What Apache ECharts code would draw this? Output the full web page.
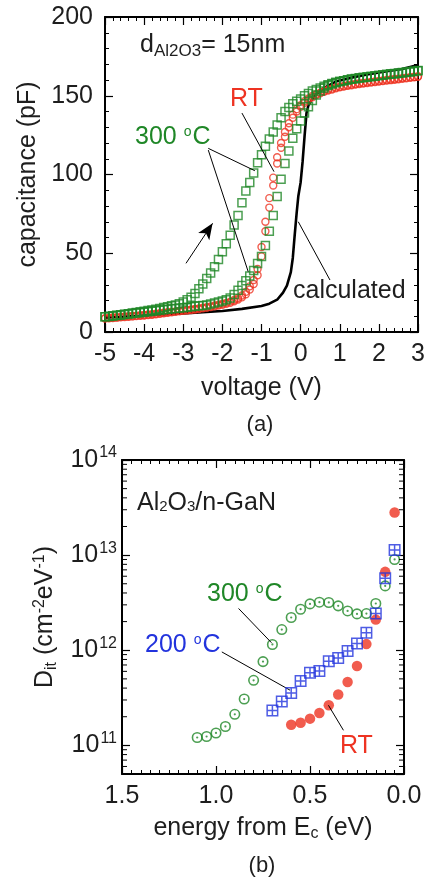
<!DOCTYPE html>
<html><head><meta charset="utf-8">
<script src="https://cdn.jsdelivr.net/npm/echarts@6/dist/echarts.min.js"></script>
<style>html,body{margin:0;padding:0;background:#fff}#c{width:428px;height:877px}</style>
</head><body><div id="c"></div>
<script>
// ---------- (a) C-V data ----------
const voltage = [
 -5.0,-4.9,-4.8,-4.7,-4.6,-4.5,-4.4,-4.3,-4.2,-4.1,
 -4.0,-3.9,-3.8,-3.7,-3.6,-3.5,-3.4,-3.3,-3.2,-3.1,
 -3.0,-2.9,-2.8,-2.7,-2.6,-2.5,-2.4,-2.3,-2.2,-2.1,
 -2.0,-1.9,-1.8,-1.7,-1.6,-1.5,-1.4,-1.3,-1.2,-1.1,
 -1.0,-0.9,-0.8,-0.7,-0.6,-0.5,-0.4,-0.3,-0.2,-0.1,
 0.0,0.1,0.2,0.3,0.4,0.5,0.6,0.7,0.8,0.9,
 1.0,1.1,1.2,1.3,1.4,1.5,1.6,1.7,1.8,1.9,
 2.0,2.1,2.2,2.3,2.4,2.5,2.6,2.7,2.8,2.9,
 3.0];
const cap300Up = [
 9.7,10.0,10.3,10.6,10.9,11.2,11.6,12.0,12.4,12.8,
 13.2,13.6,14.0,14.5,15.0,15.5,16.0,16.6,17.2,18.0,
 19.0,20.5,22.0,24.5,27.5,30.5,34.0,37.5,41.5,46.0,
 51.0,56.0,61.5,68.0,74.0,82.0,89.5,95.0,101.0,107.5,
 112.5,118.0,122.5,127.0,131.5,136.0,140.0,142.5,145.0,146.5,
 148.0,150.0,151.5,153.0,154.0,155.0,156.0,157.0,157.8,158.5,
 159.0,159.5,160.0,160.4,160.8,161.2,161.5,161.8,162.1,162.4,
 162.7,163.0,163.3,163.6,163.9,164.2,164.5,164.8,165.1,165.4,
 165.8];
const cap300Down = [
 9.7,9.9,10.2,10.5,10.8,11.1,11.4,11.7,12.0,12.3,
 12.6,12.9,13.2,13.5,13.8,14.1,14.4,14.7,15.0,15.2,
 15.4,15.7,16.0,16.3,16.6,16.9,17.2,17.8,18.4,19.0,
 19.7,20.5,21.6,23.8,26.5,29.5,32.5,35.5,39.0,43.5,
 48.0,55.0,64.0,74.0,86.0,97.0,107.0,115.0,123.0,129.0,
 134.0,139.0,143.0,147.0,150.5,153.0,155.0,156.5,157.5,158.3,
 159.0,159.6,160.1,160.6,161.0,161.4,161.8,162.1,162.4,162.7,
 163.0,163.3,163.6,163.9,164.2,164.5,164.8,165.1,165.4,165.7,
 166.0];
const capRTa = [
 8.5,8.7,8.9,9.1,9.3,9.5,9.7,9.9,10.1,10.3,
 10.5,10.8,11.0,11.3,11.6,11.9,12.2,12.5,12.8,13.1,
 13.4,13.7,14.0,14.3,14.6,15.0,15.4,15.8,16.3,16.8,
 17.3,17.9,18.6,19.5,20.6,22.0,24.0,27.0,30.5,36.0,
 48.0,64.0,79.0,93.0,107.0,117.0,124.0,130.0,136.0,140.0,
 143.0,145.5,147.5,149.0,150.5,151.5,152.5,153.3,154.0,154.7,
 155.3,155.8,156.3,156.7,157.1,157.5,157.8,158.1,158.4,158.7,
 159.0,159.3,159.6,159.9,160.2,160.5,160.8,161.1,161.4,161.7,
 162.0];
const capRTb = [
 8.8,9.0,9.2,9.4,9.6,9.8,10.0,10.2,10.4,10.6,
 10.8,11.1,11.3,11.6,11.9,12.2,12.5,12.8,13.1,13.4,
 13.7,14.0,14.3,14.6,15.0,15.4,15.8,16.3,16.8,17.3,
 17.9,18.5,19.3,20.3,21.6,23.2,25.5,29.0,33.0,40.0,
 54.0,70.0,85.0,98.0,111.0,120.0,127.0,132.5,138.0,141.5,
 144.0,146.5,148.3,149.8,151.0,152.0,153.0,153.8,154.5,155.2,
 155.7,156.2,156.7,157.1,157.5,157.9,158.2,158.5,158.8,159.1,
 159.4,159.7,160.0,160.3,160.6,160.9,161.2,161.5,161.8,162.1,
 162.4];
const calcVoltage = [-5,-4,-3,-2.5,-2,-1.5,-1,-0.8,-0.6,-0.45,-0.35,-0.25,-0.2,-0.15,-0.1,-0.06,0,0.05,0.1,0.15,0.2,0.3,0.4,0.6,0.9,1.3,1.7,2.2,2.6,3.0];
const calcCap =     [9,10.5,11.8,12.6,13.3,14.7,16.5,18,20.5,25,29.5,38,47,62,76,86,95,108,124,139,144,148,151,155,159,161.5,163.5,165.5,167,169.5];

// ---------- (b) Dit data ----------
const energy300 = [1.10,1.05,1.00,0.95,0.90,0.85,0.80,0.75,0.70,0.65,0.60,0.55,0.50,0.45,0.40,0.35,0.30,0.25,0.20,0.15,0.10,0.05];
const dit300 = [1.21e11,1.24e11,1.35e11,1.58e11,2.12e11,3.07e11,4.83e11,7.6e11,1.15e12,1.65e12,2.21e12,2.70e12,3.07e12,3.2e12,3.18e12,2.93e12,2.59e12,2.41e12,2.43e12,3.1e12,4.75e12,9.0e12];
const energy200 = [0.70,0.65,0.60,0.55,0.50,0.45,0.40,0.35,0.30,0.25,0.20,0.15,0.10,0.05];
const dit200 = [2.33e11,2.9e11,3.55e11,4.75e11,5.8e11,6.05e11,7.65e11,8.3e11,9.8e11,1.18e12,1.53e12,2.43e12,5.7e12,1.13e13];
const energyRT = [0.60,0.55,0.50,0.45,0.40,0.35,0.30,0.25,0.20,0.15,0.10,0.05];
const ditRT = [1.65e11,1.73e11,1.91e11,2.19e11,2.64e11,3.42e11,4.63e11,6.84e11,1.16e12,2.1e12,6.67e12,2.81e13];
const logMinorTicks = [6e10,7e10,8e10,9e10,2e11,3e11,4e11,5e11,6e11,7e11,8e11,9e11,2e12,3e12,4e12,5e12,6e12,7e12,8e12,9e12,2e13,3e13,4e13,5e13,6e13,7e13,8e13,9e13];

const FONT = '"Liberation Sans", Arial, Helvetica, sans-serif';
const GREEN = '#1f8727', RED = '#ee3322', BLUE = '#2233dd', INK = '#1e1e1e';
const zip = (a, b) => a.map((v, i) => [v, b[i]]);

function axisBase(extra) {
  return Object.assign({
    axisLine: {show: true, onZero: false, lineStyle: {color: '#000', width: 2}},
    axisTick: {show: true, inside: true, length: 8, lineStyle: {color: '#000', width: 1.2}},
    minorTick: {show: true, splitNumber: 5, length: 4, lineStyle: {color: '#000', width: 1}},
    splitLine: {show: false},
    axisLabel: {show: true, fontSize: 25, color: INK, fontFamily: FONT},
    nameTextStyle: {fontSize: 25, color: INK, fontFamily: FONT}
  }, extra);
}
const noLabel = {show: false};
const supRich = {
  b: {fontSize: 25, color: INK, fontFamily: FONT},
  s: {fontSize: 16, color: INK, fontFamily: FONT, padding: [0, 0, 14, 1]}
};
function logLabel(v) {
  const l = Math.log10(v), e = Math.round(l);
  if (Math.abs(l - e) > 1e-6) return '';
  return '{b|10}{s|' + e + '}';
}

const chart = echarts.init(document.getElementById('c'));
const option = {
  animation: false,
  backgroundColor: '#fff',
  grid: [
    {left: 105, top: 17, width: 313, height: 315},
    {left: 122, top: 460, width: 282, height: 314}
  ],
  xAxis: [
    axisBase({gridIndex: 0, type: 'value', min: -5, max: 3, interval: 1,
      axisLabel: {fontSize: 25, color: INK, fontFamily: FONT, margin: 10},
      name: 'voltage (V)', nameLocation: 'middle', nameGap: 44}),
    axisBase({gridIndex: 0, type: 'value', min: -5, max: 3, interval: 1, position: 'top', axisLabel: noLabel}),
    axisBase({gridIndex: 1, type: 'value', min: 0, max: 1.5, interval: 0.5, inverse: true,
      minorTick: {show: true, splitNumber: 10, length: 4, lineStyle: {color: '#000', width: 1}},
      axisLabel: {fontSize: 25, color: INK, fontFamily: FONT, margin: 10, formatter: v => v.toFixed(1)},
      name: '{m|energy from E}{sub|c}{m| (eV)}', nameLocation: 'middle', nameGap: 40,
      nameTextStyle: {fontSize: 25, color: INK, fontFamily: FONT, rich: {
        m: {fontSize: 25, color: INK, fontFamily: FONT},
        sub: {fontSize: 16, color: INK, fontFamily: FONT, padding: [12, 0, 0, 0]}}}}),
    axisBase({gridIndex: 1, type: 'value', min: 0, max: 1.5, interval: 0.5, inverse: true, position: 'top',
      minorTick: {show: true, splitNumber: 10, length: 4, lineStyle: {color: '#000', width: 1}},
      axisLabel: noLabel})
  ],
  yAxis: [
    axisBase({gridIndex: 0, type: 'value', min: 0, max: 200, interval: 50,
      axisLabel: {fontSize: 25, color: INK, fontFamily: FONT, margin: 12},
      name: 'capacitance (pF)', nameLocation: 'middle', nameGap: 52, nameRotate: 90}),
    axisBase({gridIndex: 0, type: 'value', min: 0, max: 200, interval: 50, position: 'right', axisLabel: noLabel}),
    axisBase({gridIndex: 1, type: 'log', logBase: 10, min: 5e10, max: 1e14,
      minorTick: {show: false},
      axisLabel: {fontSize: 25, color: INK, fontFamily: FONT, margin: 5, formatter: logLabel, rich: supRich, showMinLabel: false},
      name: '{m|D}{sub|it}{m| (cm}{sup|-2}{m|eV}{sup|-1}{m|)}', nameLocation: 'middle', nameGap: 54, nameRotate: 90,
      nameTextStyle: {fontSize: 25, color: INK, fontFamily: FONT, rich: {
        m: {fontSize: 25, color: INK, fontFamily: FONT},
        sub: {fontSize: 16, color: INK, fontFamily: FONT, padding: [12, 0, 0, 0]},
        sup: {fontSize: 16, color: INK, fontFamily: FONT, padding: [0, 0, 12, 0]}}}}),
    axisBase({gridIndex: 1, type: 'log', logBase: 10, min: 5e10, max: 1e14, position: 'right',
      minorTick: {show: false}, axisLabel: noLabel})
  ],
  series: [
    {
      name: 'calculated', type: 'line', xAxisIndex: 0, yAxisIndex: 0,
      data: zip(calcVoltage, calcCap), showSymbol: false, symbol: 'none',
      lineStyle: {color: '#000', width: 2.6}, z: 2,
      markLine: {
        silent: true, symbol: ['none', 'none'], label: {show: false},
        lineStyle: {color: '#000', width: 1, type: 'solid'},
        emphasis: {disabled: true},
        data: [
          [{coord: [-1.50, 139]}, {coord: [-0.68, 101.8]}],
          [{coord: [-2.36, 116.6]}, {coord: [-1.17, 102.4]}],
          [{coord: [-2.36, 115.5]}, {coord: [-1.34, 38.3]}],
          [{coord: [-0.06, 70]}, {coord: [0.75, 33]}],
          [{coord: [-2.93, 43.6], symbol: 'none'}, {coord: [-2.25, 69], symbol: 'arrow', symbolSize: [10, 16]}]
        ]
      }
    },
    {name: 'RT a', type: 'scatter', xAxisIndex: 0, yAxisIndex: 0, data: zip(voltage, capRTa),
      symbol: 'circle', symbolSize: 7, itemStyle: {color: 'rgba(255,255,255,0)', borderColor: RED, borderWidth: 1.4}, z: 3},
    {name: 'RT b', type: 'scatter', xAxisIndex: 0, yAxisIndex: 0, data: zip(voltage, capRTb),
      symbol: 'circle', symbolSize: 7, itemStyle: {color: 'rgba(255,255,255,0)', borderColor: RED, borderWidth: 1.4}, z: 3},
    {name: '300 up', type: 'scatter', xAxisIndex: 0, yAxisIndex: 0, data: zip(voltage, cap300Up),
      symbol: 'rect', symbolSize: 8, itemStyle: {color: 'rgba(255,255,255,0)', borderColor: GREEN, borderWidth: 1.5}, z: 4},
    {name: '300 down', type: 'scatter', xAxisIndex: 0, yAxisIndex: 0, data: zip(voltage, cap300Down),
      symbol: 'rect', symbolSize: 8, itemStyle: {color: 'rgba(255,255,255,0)', borderColor: GREEN, borderWidth: 1.5}, z: 4},

    // (b)
    {name: 'log minor ticks', type: 'custom', xAxisIndex: 2, yAxisIndex: 2, silent: true, z: 10,
      data: logMinorTicks.map(v => [1.5, v]),
      renderItem: (params, api) => {
        const v = api.value(1);
        const p = api.coord([1.5, v]), q = api.coord([0, v]);
        const st = {stroke: '#000', lineWidth: 1};
        return {type: 'group', children: [
          {type: 'line', shape: {x1: p[0], y1: p[1], x2: p[0] + 5, y2: p[1]}, style: st},
          {type: 'line', shape: {x1: q[0] - 5, y1: q[1], x2: q[0], y2: q[1]}, style: st}
        ]};
      }
    },
    {name: 'RT', type: 'scatter', xAxisIndex: 2, yAxisIndex: 2, data: zip(energyRT, ditRT),
      symbol: 'circle', symbolSize: 10.5, itemStyle: {color: RED}, z: 3,
      markLine: {
        silent: true, symbol: ['none', 'none'], label: {show: false},
        lineStyle: {color: '#000', width: 1, type: 'solid'}, emphasis: {disabled: true},
        data: [
          [{coord: [0.88, 2.75e12]}, {coord: [0.705, 1.2e12]}],
          [{coord: [0.969, 9.6e11]}, {coord: [0.606, 3.8e11]}],
          [{coord: [0.402, 2.64e11]}, {coord: [0.322, 1.44e11]}]
        ]
      }
    },
    {name: '300C ring', type: 'scatter', xAxisIndex: 2, yAxisIndex: 2, data: zip(energy300, dit300),
      symbol: 'circle', symbolSize: 9.5, itemStyle: {color: 'rgba(255,255,255,0)', borderColor: GREEN, borderWidth: 1.6}, z: 4},
    {name: '300C dot', type: 'scatter', xAxisIndex: 2, yAxisIndex: 2, data: zip(energy300, dit300),
      symbol: 'circle', symbolSize: 2.2, itemStyle: {color: GREEN}, z: 4},
    {name: '200C', type: 'scatter', xAxisIndex: 2, yAxisIndex: 2, data: zip(energy200, dit200),
      symbol: 'path://M0,0H10V10H0Z M5,0V10 M0,5H10', symbolSize: 10.5,
      itemStyle: {color: 'rgba(255,255,255,0)', borderColor: BLUE, borderWidth: 1.5}, z: 5}
  ],
  graphic: [
    {type: 'text', x: 140, y: 45, style: {text: '{m|d}{s|Al2O3}{m|= 15nm}', verticalAlign: 'middle',
      rich: {m: {fontSize: 25, fill: INK, fontFamily: FONT}, s: {fontSize: 17, fill: INK, fontFamily: FONT, padding: [12, 0, 0, 0]}}}},
    {type: 'text', x: 230, y: 99, style: {text: 'RT', fontSize: 25, fill: RED, fontFamily: FONT, verticalAlign: 'middle'}},
    {type: 'text', x: 135, y: 137, style: {text: '{m|300 }{o|o}{m|C}', verticalAlign: 'middle',
      rich: {m: {fontSize: 25, fill: GREEN, fontFamily: FONT}, o: {fontSize: 14, fill: GREEN, fontFamily: FONT, padding: [0, 1, 10, 0]}}}},
    {type: 'text', x: 293, y: 291, style: {text: 'calculated', fontSize: 25, fill: INK, fontFamily: FONT, verticalAlign: 'middle'}},
    {type: 'text', x: 260, y: 425, style: {text: '(a)', fontSize: 22, fill: INK, fontFamily: FONT, align: 'center', verticalAlign: 'middle'}},

    {type: 'text', x: 137, y: 503, style: {text: '{m|Al}{s|2}{m|O}{s|3}{m|/n-GaN}', verticalAlign: 'middle',
      rich: {m: {fontSize: 25, fill: INK, fontFamily: FONT}, s: {fontSize: 15, fill: INK, fontFamily: FONT, padding: [7, 0, 0, 0]}}}},
    {type: 'text', x: 207, y: 594, style: {text: '{m|300 }{o|o}{m|C}', verticalAlign: 'middle',
      rich: {m: {fontSize: 25, fill: GREEN, fontFamily: FONT}, o: {fontSize: 14, fill: GREEN, fontFamily: FONT, padding: [0, 1, 10, 0]}}}},
    {type: 'text', x: 145, y: 645, style: {text: '{m|200 }{o|o}{m|C}', verticalAlign: 'middle',
      rich: {m: {fontSize: 25, fill: BLUE, fontFamily: FONT}, o: {fontSize: 14, fill: BLUE, fontFamily: FONT, padding: [0, 1, 10, 0]}}}},
    {type: 'text', x: 340, y: 746, style: {text: 'RT', fontSize: 25, fill: RED, fontFamily: FONT, verticalAlign: 'middle'}},
    {type: 'text', x: 262, y: 866, style: {text: '(b)', fontSize: 22, fill: INK, fontFamily: FONT, align: 'center', verticalAlign: 'middle'}}
  ]
};
chart.setOption(option);
</script>
</body></html>
